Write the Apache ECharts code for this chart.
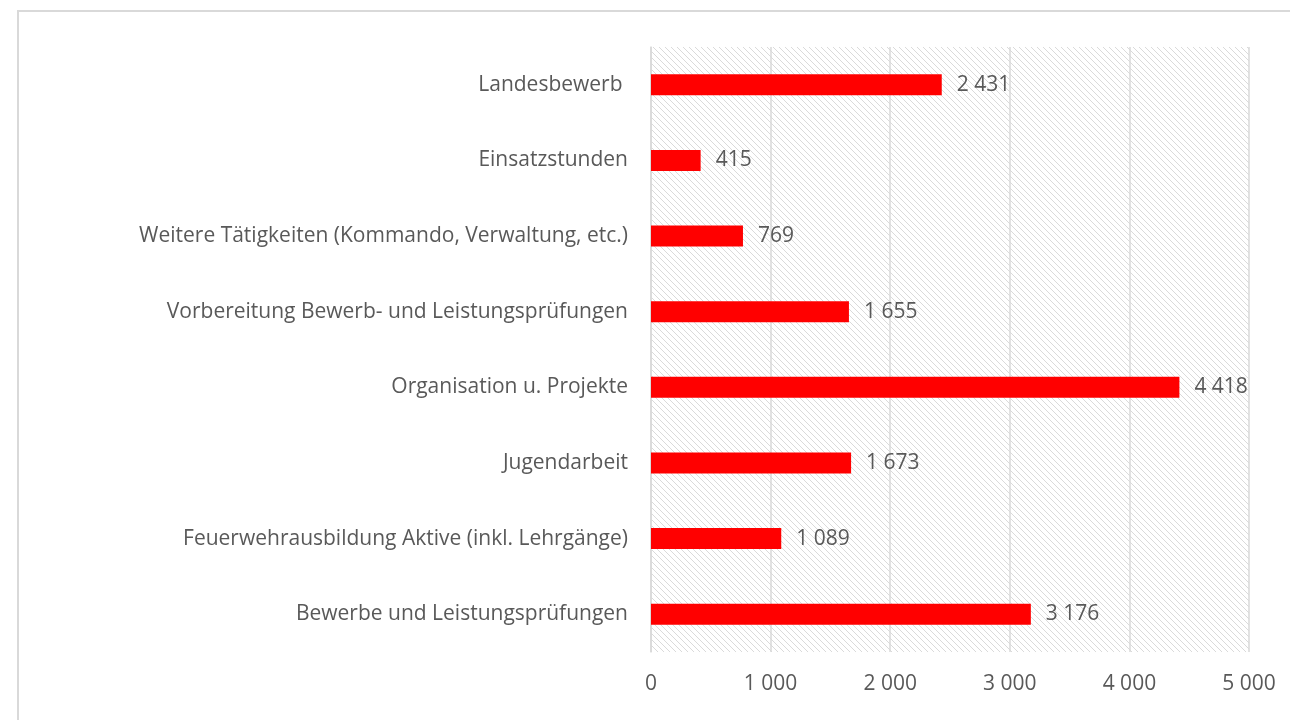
<!DOCTYPE html>
<html>
<head>
<meta charset="utf-8">
<script src="https://cdn.jsdelivr.net/npm/echarts@6/dist/echarts.min.js"></script>
<style>
  html, body { margin: 0; padding: 0; background: #fff; }
  #chart { width: 1290px; height: 720px; }
</style>
</head>
<body>
<div id="chart"></div>
<script>
var categories = [
  'Bewerbe und Leistungsprüfungen',
  'Feuerwehrausbildung Aktive (inkl. Lehrgänge)',
  'Jugendarbeit',
  'Organisation u. Projekte',
  'Vorbereitung Bewerb- und Leistungsprüfungen',
  'Weitere Tätigkeiten (Kommando, Verwaltung, etc.)',
  'Einsatzstunden',
  'Landesbewerb '
];
var hours = [3176, 1089, 1673, 4418, 1655, 769, 415, 2431];
var axisMax = 5000;
var axisStep = 1000;

// space as thousands separator, e.g. 2 431
function fmt(v) {
  return String(v).replace(/\B(?=(\d{3})+(?!\d))/g, ' ');
}

// hatched plot background
function hatch() {
  var c = document.createElement('canvas');
  c.width = 6; c.height = 6;
  var ctx = c.getContext('2d');
  ctx.strokeStyle = '#dadada';
  ctx.lineWidth = 1;
  ctx.beginPath();
  ctx.moveTo(-1, -1); ctx.lineTo(7, 7);
  ctx.moveTo(-1, 5); ctx.lineTo(1, 7);
  ctx.moveTo(5, -1); ctx.lineTo(7, 1);
  ctx.stroke();
  return c;
}

var txt = '#595959';
var font = 'Open Sans';
var chart = echarts.init(document.getElementById('chart'));
chart.setOption({
  animation: false,
  textStyle: { fontFamily: font },
  graphic: [{
    type: 'rect',
    shape: { x: 18, y: 11, width: 1290, height: 720 },
    style: { fill: 'none', stroke: '#d9d9d9', lineWidth: 2 },
    silent: true
  }],
  grid: {
    left: 651, right: 41, top: 47, bottom: 68,
    show: true,
    borderWidth: 0,
    backgroundColor: { image: hatch(), repeat: 'repeat' }
  },
  xAxis: {
    type: 'value',
    min: 0, max: axisMax, interval: axisStep,
    axisLine: { show: false },
    axisTick: { show: false },
    splitLine: { lineStyle: { color: '#d9d9d9', width: 1.5 } },
    axisLabel: { color: txt, fontSize: 21, margin: 22, formatter: fmt }
  },
  yAxis: {
    type: 'category',
    data: categories,
    axisLine: { lineStyle: { color: '#d9d9d9', width: 1.5 } },
    axisTick: { length: 8, lineStyle: { color: '#d9d9d9', width: 1.5 } },
    axisLabel: { color: txt, fontSize: 21, margin: 23 }
  },
  series: [{
    type: 'bar',
    data: hours,
    barWidth: 21,
    itemStyle: { color: '#ff0000' },
    label: {
      show: true, position: 'right', distance: 15,
      color: txt, fontSize: 21,
      formatter: function (p) { return fmt(p.value); }
    }
  }]
});
</script>
</body>
</html>
